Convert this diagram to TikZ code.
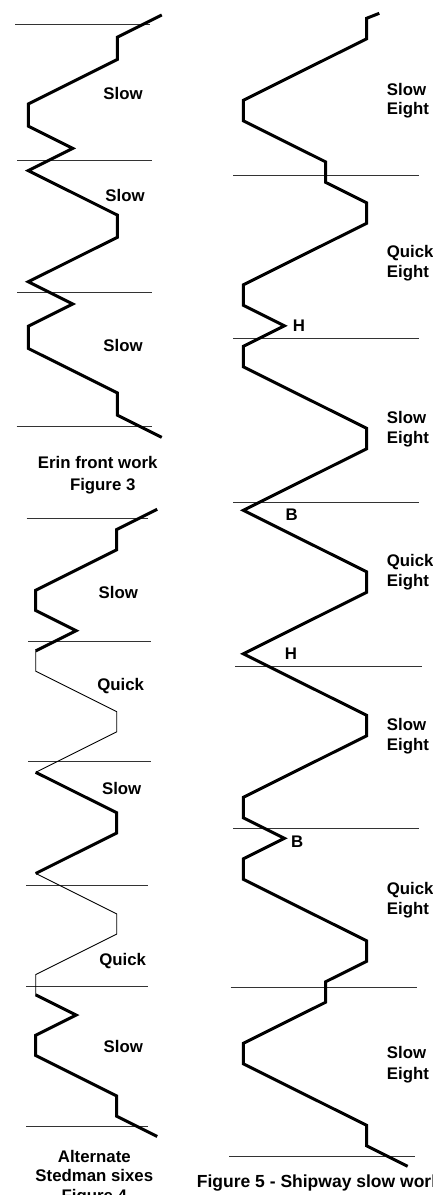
\documentclass[tikz,border=0pt]{standalone}
\usepackage{fontspec}
\setmainfont{Liberation Sans}
\begin{document}
\begin{tikzpicture}[x=1pt,y=-1pt,
  lbl/.style={inner sep=0pt,font=\fontsize{16.8}{19}\selectfont\bfseries},
  caplbl/.style={inner sep=0pt,font=\fontsize{17.5}{19}\selectfont\bfseries},
  rule/.style={line width=0.9pt,draw=black!80},
  thickpath/.style={line width=3pt,line join=miter},
  thinpath/.style={line width=0.9pt,line join=miter}]
\useasboundingbox (0,0) rectangle (433,1195);
\fill[white] (0,0) rectangle (433,1195);

% ---------------- Figure 3 ----------------
\draw[rule] (15,24.7) -- (150,24.7);
\draw[rule] (17,160.7) -- (152,160.7);
\draw[rule] (17,292.7) -- (152,292.7);
\draw[rule] (16.7,426) -- (151.7,426);
\begin{scope}[xshift=-16.2pt,yshift=-15pt,x=44.5pt,y=-22.23pt]
\draw[thickpath] (4,0)--(3,1)--(3,2)--(2,3)--(1,4)--(1,5)--(2,6)--(1,7)--(2,8)--(3,9)--(3,10)--(2,11)--(1,12)--(2,13)--(1,14)--(1,15)--(2,16)--(3,17)--(3,18)--(4,19);
\end{scope}
\node[lbl,anchor=base] (s31) at (123,99) {Slow};
\node[lbl,anchor=base] (s32) at (125,201) {Slow};
\node[lbl,anchor=base] (s33) at (123,351.7) {Slow};
\node[lbl,anchor=base] (c3a) at (97.7,468.7) {Erin front work};
\node[lbl,anchor=base] (c3b) at (102.7,490) {Figure 3};

% ---------------- Figure 4 ----------------
\draw[rule] (26.7,518.3) -- (148.3,518.3);
\draw[rule] (28,641.7) -- (150.7,641.7);
\draw[rule] (28,761.7) -- (150.7,761.7);
\draw[rule] (26,885.7) -- (148.3,885.7);
\draw[rule] (26,986.7) -- (148.3,986.7);
\draw[rule] (26,1126) -- (148.3,1126);
\begin{scope}[xshift=-4.8pt,yshift=-509.3pt,x=40.5pt,y=-20.23pt]
\draw[thickpath] (4,0)--(3,1)--(3,2)--(2,3)--(1,4)--(1,5)--(2,6)--(1,7);
\draw[thinpath] (1,7)--(1,8)--(2,9)--(3,10)--(3,11)--(2,12)--(1,13);
\draw[thickpath] (1,13)--(2,14)--(3,15)--(3,16)--(2,17)--(1,18);
\draw[thinpath] (1,18)--(2,19)--(3,20)--(3,21)--(2,22)--(1,23)--(1,24);
\draw[thickpath] (1,24)--(2,25)--(1,26)--(1,27)--(2,28)--(3,29)--(3,30)--(4,31);
\end{scope}
\node[lbl,anchor=base] (s41) at (118.3,598.3) {Slow};
\node[lbl,anchor=base] (q41) at (120.7,690) {Quick};
\node[lbl,anchor=base] (s42) at (121.7,794.3) {Slow};
\node[lbl,anchor=base] (q42) at (122.7,965.3) {Quick};
\node[lbl,anchor=base] (s43) at (123.3,1052) {Slow};
\node[lbl,anchor=base] (c4a) at (94.3,1162) {Alternate};
\node[lbl,anchor=base] (c4b) at (94.3,1181.7) {Stedman sixes};
\node[lbl,anchor=base] (c4c) at (94.3,1201.4) {Figure 4};

% ---------------- Figure 5 ----------------
\draw[rule] (233.3,175) -- (419.3,175);
\draw[rule] (233.3,338.3) -- (419.3,338.3);
\draw[rule] (233.3,502.7) -- (419.3,502.7);
\draw[rule] (235,666) -- (421.7,666);
\draw[rule] (233.3,828.3) -- (419.3,828.3);
\draw[rule] (230.7,987.7) -- (416.7,987.7);
\draw[rule] (229,1156) -- (415,1156);
\coordinate (top5) at (379.3,13.3);
\begin{scope}[xshift=202.2pt,yshift=-18.3pt,x=41.1pt,y=-20.5pt]
\draw[thickpath] (top5)--(4,0)--(4,1)--(3,2)--(2,3)--(1,4)--(1,5)--(2,6)--(3,7)--(3,8)--(4,9)--(4,10)--(3,11)--(2,12)--(1,13)--(1,14)--(2,15)--(1,16)--(1,17)--(2,18)--(3,19)--(4,20)--(4,21)--(3,22)--(2,23)--(1,24)--(2,25)--(3,26)--(4,27)--(4,28)--(3,29)--(2,30)--(1,31)--(2,32)--(3,33)--(4,34)--(4,35)--(3,36)--(2,37)--(1,38)--(1,39)--(2,40)--(1,41)--(1,42)--(2,43)--(3,44)--(4,45)--(4,46)--(3,47)--(3,48)--(2,49)--(1,50)--(1,51)--(2,52)--(3,53)--(4,54)--(4,55)--(5,56);
\end{scope}
\node[lbl,anchor=base west] (s51) at (386.7,95.3) {Slow};
\node[lbl,anchor=base west] (e51) at (386.7,114.5) {Eight};
\node[lbl,anchor=base west] (q51) at (386.7,257.7) {Quick};
\node[lbl,anchor=base west] (e52) at (386.7,277.7) {Eight};
\node[lbl,anchor=base west] (s52) at (386.7,423.3) {Slow};
\node[lbl,anchor=base west] (e53) at (386.7,443.3) {Eight};
\node[lbl,anchor=base west] (q52) at (386.7,566) {Quick};
\node[lbl,anchor=base west] (e54) at (386.7,586) {Eight};
\node[lbl,anchor=base west] (s53) at (386.7,730) {Slow};
\node[lbl,anchor=base west] (e55) at (386.7,750) {Eight};
\node[lbl,anchor=base west] (q53) at (386.7,894.3) {Quick};
\node[lbl,anchor=base west] (e56) at (386.7,914.3) {Eight};
\node[lbl,anchor=base west] (s54) at (386.7,1058.3) {Slow};
\node[lbl,anchor=base west] (e57) at (386.7,1079.3) {Eight};
\node[lbl,anchor=base] (h1) at (299,331) {H};
\node[lbl,anchor=base] (b1) at (291.7,520.3) {B};
\node[lbl,anchor=base] (h2) at (291,659.3) {H};
\node[lbl,anchor=base] (b2) at (297.3,847.7) {B};
\node[caplbl,anchor=base west] (c5) at (196.7,1187.7) {Figure 5 - Shipway slow work};
\end{tikzpicture}
\end{document}
